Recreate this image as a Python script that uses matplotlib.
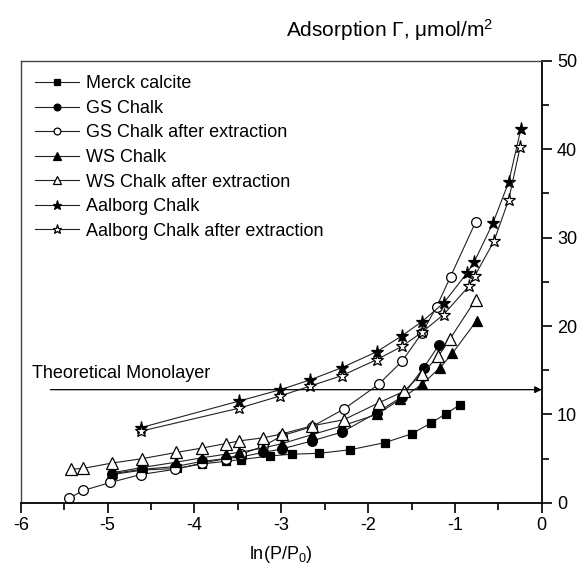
import matplotlib
matplotlib.use("Agg")
import matplotlib.pyplot as plt
from matplotlib.ticker import MultipleLocator

plt.rcParams['font.family'] = ['Liberation Sans', 'DejaVu Sans']
plt.rcParams['mathtext.fontset'] = 'custom'
plt.rcParams['mathtext.rm'] = 'Liberation Sans'
plt.rcParams['mathtext.it'] = 'Liberation Sans'
plt.rcParams['axes.unicode_minus'] = False

# data
merck_x = [-4.95, -4.60, -4.20, -3.91, -3.64, -3.46, -3.13, -2.88, -2.57, -2.21, -1.81, -1.50, -1.28, -1.10, -0.94]
merck_y = [3.2, 3.7, 3.9, 4.4, 4.7, 4.9, 5.3, 5.5, 5.6, 6.0, 6.8, 7.8, 9.0, 10.1, 11.1]

gs_x = [-4.95, -4.60, -4.22, -3.91, -3.64, -3.46, -3.21, -2.99, -2.65, -2.30, -1.90, -1.61, -1.36, -1.18]
gs_y = [3.3, 3.8, 4.1, 4.7, 5.0, 5.2, 5.7, 6.1, 7.0, 8.0, 10.2, 12.0, 15.3, 17.9]

gsx_x = [-5.45, -5.28, -4.97, -4.62, -4.22, -3.91, -3.64, -3.46, -3.21, -2.99, -2.65, -2.28, -1.88, -1.61, -1.38, -1.21, -1.05, -0.76]
gsx_y = [0.5, 1.4, 2.3, 3.2, 3.8, 4.5, 5.0, 5.5, 6.4, 7.6, 8.6, 10.6, 13.4, 16.0, 19.2, 22.2, 25.6, 31.8]

ws_x = [-4.95, -4.60, -4.21, -3.91, -3.64, -3.49, -3.21, -2.99, -2.65, -2.30, -1.90, -1.63, -1.38, -1.17, -1.03, -0.75]
ws_y = [3.4, 4.0, 4.6, 5.1, 5.5, 5.7, 6.2, 6.7, 7.7, 8.7, 10.0, 11.7, 13.4, 15.3, 16.9, 20.6]

wsx_x = [-5.42, -5.28, -4.95, -4.60, -4.21, -3.91, -3.64, -3.49, -3.21, -2.99, -2.65, -2.28, -1.88, -1.59, -1.38, -1.19, -1.06, -0.76]
wsx_y = [3.8, 3.9, 4.5, 5.0, 5.7, 6.2, 6.7, 7.0, 7.35, 7.8, 8.7, 9.4, 11.3, 12.6, 14.6, 16.6, 18.5, 23.0]

aal_x = [-4.62, -3.49, -3.01, -2.67, -2.30, -1.90, -1.61, -1.38, -1.13, -0.86, -0.78, -0.56, -0.38, -0.24]
aal_y = [8.5, 11.5, 12.8, 13.9, 15.3, 17.1, 18.9, 20.5, 22.6, 26.0, 27.2, 31.7, 36.3, 42.3]

aalx_x = [-4.62, -3.49, -3.01, -2.67, -2.30, -1.90, -1.61, -1.38, -1.13, -0.84, -0.77, -0.55, -0.38, -0.25]
aalx_y = [8.1, 10.7, 12.1, 13.2, 14.4, 16.2, 17.7, 19.3, 21.3, 24.5, 25.7, 29.6, 34.3, 40.2]

monolayer = 12.8

fig = plt.figure(figsize=(5.8, 5.74), dpi=100)
ax = fig.add_axes([0.036, 0.124, 0.898, 0.770])

def series(x, y, marker, filled, label, ms=6.5):
    fc = "black" if filled else "white"
    ax.plot(x, y, color="#222222", lw=0.8, marker=marker, ms=ms,
            mfc=fc, mec="black", mew=0.9, label=label)

series(merck_x, merck_y, "s", True, "Merck calcite", 6.2)
series(gs_x, gs_y, "o", True, "GS Chalk", 7)
series(gsx_x, gsx_y, "o", False, "GS Chalk after extraction", 7)
series(ws_x, ws_y, "^", True, "WS Chalk", 7.5)
series(wsx_x, wsx_y, "^", False, "WS Chalk after extraction", 8)
series(aal_x, aal_y, "*", True, "Aalborg Chalk", 9.5)
series(aalx_x, aalx_y, "*", False, "Aalborg Chalk after extraction", 9.5)

ax.annotate("", xy=(0, monolayer), xytext=(-5.66, monolayer),
            arrowprops=dict(arrowstyle="-|>", color="black", lw=0.9,
                            mutation_scale=10, shrinkA=0, shrinkB=0))
ax.text(-5.87, monolayer + 0.9, "Theoretical Monolayer", fontsize=13,
        ha="left", va="bottom")

ax.set_xlim(-6, 0)
ax.set_ylim(0, 50)
ax.xaxis.set_major_locator(MultipleLocator(1))
ax.xaxis.set_minor_locator(MultipleLocator(0.5))
ax.yaxis.set_major_locator(MultipleLocator(10))
ax.yaxis.set_minor_locator(MultipleLocator(5))
ax.yaxis.tick_right()
ax.tick_params(which="both", direction="out", labelsize=13, width=1.2)
ax.tick_params(which="major", length=7)
ax.tick_params(which="minor", length=5)
ax.tick_params(axis="y", pad=4)

for s in ["top", "left"]:
    ax.spines[s].set_color("#444444")
    ax.spines[s].set_linewidth(1.0)
for s in ["bottom", "right"]:
    ax.spines[s].set_linewidth(1.3)

ax.set_xlabel("ln(P/P$_0$)", fontsize=13, labelpad=7)
fig.text(0.85, 0.947, r"Adsorption $\Gamma$, $\mu$mol/m$^2$", fontsize=15,
         ha="right", va="center")

ax.legend(loc="upper left", frameon=False, fontsize=13, handlelength=2.4,
          handletextpad=0.4, labelspacing=0.42, borderaxespad=0.4,
          markerscale=0.7, bbox_to_anchor=(0.0, 1.0))

fig.savefig("out.png", dpi=100)
